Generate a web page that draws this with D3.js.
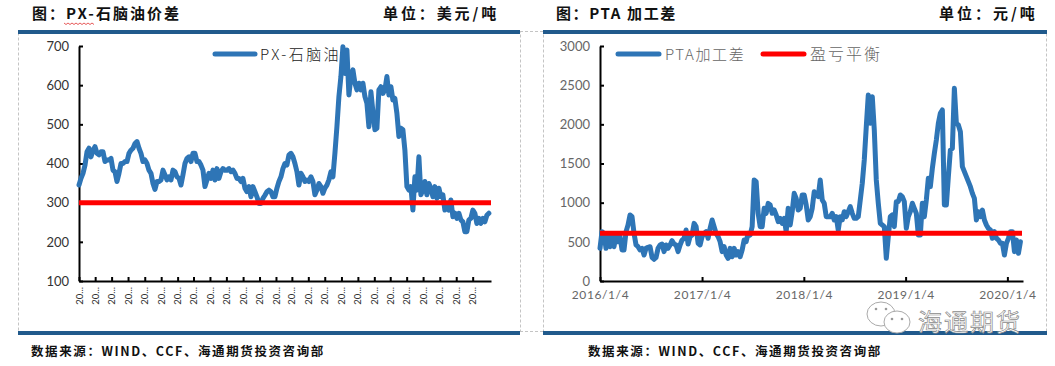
<!DOCTYPE html>
<html>
<head>
<meta charset="utf-8">
<script src="https://cdnjs.cloudflare.com/ajax/libs/d3/7.8.5/d3.min.js"></script>
<style>
  html, body { margin: 0; padding: 0; background: #fff; }
  svg { display: block; }
  .head { font-family: "Noto Sans CJK SC", sans-serif; font-weight: 700; font-size: 15px; fill: #111; }
  .src { font-family: "Noto Sans CJK SC", sans-serif; font-weight: 700; font-size: 12.5px; letter-spacing: 1.6px; fill: #111; }
  .tick text { font-family: Lato, sans-serif; }
  .leg { font-family: "Noto Sans CJK SC", sans-serif; font-weight: 300; }
</style>
</head>
<body>
<div id="chart"></div>
<script>
// values, one sample about every 2px
var pxValues = [345,362,375,396,430,439,417,434,443,426,422,430,430,405,409,409,413,383,379,354,375,400,400,405,405,426,434,439,451,456,439,426,405,409,400,383,375,349,334,354,354,358,383,371,358,366,358,383,379,366,362,345,371,400,413,417,405,426,426,405,405,396,383,341,358,375,362,383,358,387,362,379,387,383,383,387,379,383,375,362,362,354,362,337,328,341,315,341,328,315,298,298,311,319,328,332,328,315,315,337,354,366,387,400,396,422,
  426,417,400,379,345,375,366,354,358,354,366,354,320,332,349,341,324,337,345,358,379,366,426,494,571,622,698,630,690,575,622,639,605,588,605,588,605,571,554,494,583,532,486,490,588,596,579,588,622,575,596,562,566,528,469,490,486,434,341,332,341,281,366,332,417,320,332,354,320,349,337,315,341,311,337,315,320,281,298,281,307,264,273,260,273,256,251,226,226,256,260,281,273,247,260,247,260,251,268,273];
var ptaValues = [417,630,608,417,587,438,587,438,587,502,566,396,396,630,715,843,821,608,460,438,396,417,332,417,430,438,302,277,302,417,460,472,375,460,417,460,515,472,460,375,460,523,545,651,472,566,587,736,694,481,460,566,608,630,545,672,779,694,608,566,502,375,438,332,289,417,310,417,332,375,310,396,523,502,608,587,694,1289,1268,864,694,694,928,864,991,970,864,907,843,758,800,736,800,630,928,715,885,1119,1055,907,
  928,1098,1098,970,779,821,928,1140,1098,1077,1290,1034,992,821,821,821,864,779,821,651,821,779,885,821,885,949,864,800,800,821,1034,1247,1545,1970,2374,2013,2353,1928,1290,992,736,715,694,290,566,821,843,694,1013,1013,1098,1077,1013,672,821,885,992,928,864,587,587,992,821,1034,1311,1204,1438,1630,1800,2013,2140,2183,970,970,1332,1672,1694,2460,2013,1992,1906,1460,1396,1332,1268,1204,1119,1055,779,885,821,906,779,715,672,651,545,630,545,524,481,481,332,481,545,630,630,375,524,353,502];
var pxBreakEven = [300, 300];
var ptaBreakEven = [610, 610];
var pxTicks = [100, 200, 300, 400, 500, 600, 700];
var ptaTicks = [0, 500, 1000, 1500, 2000, 2500, 3000];
var ptaDateTicks = ["2016/1/4", "2017/1/4", "2018/1/4", "2019/1/4", "2020/1/4"];

var blue = "#2E75B6", red = "#FF0000", band = "#215A8C";
var parse = d3.timeParse("%Y/%-m/%-d");
var start = parse("2016/1/4");

var svg = d3.select("#chart").append("svg").attr("width", 1055).attr("height", 366);

// dashed chart frames
var frame = svg.append("g").attr("fill", "none").attr("stroke", "#c4c4c4").attr("stroke-dasharray", "3,2");
frame.append("rect").attr("x", 18.5).attr("y", 31.5).attr("width", 502).attr("height", 300);
frame.append("rect").attr("x", 543.5).attr("y", 31.5).attr("width", 503).attr("height", 300);
frame.append("path").attr("d", "M520,31.5H543M520,331.5H543");

// one panel: axes, series, break even line
function drawPanel(opt) {
    var x = d3.scaleTime().domain([start, opt.end]).range(opt.xRange);
    var y = d3.scaleLinear().domain(d3.extent(opt.yTicks)).range([281, 46]);
    var dates = opt.values.map((d, i) => new Date(+start + i * opt.stepDays * 864e5));

    var g = svg.append("g");

    var yAxis = d3.axisLeft(y).tickValues(opt.yTicks).tickSizeInner(-4).tickSizeOuter(0).tickPadding(10).tickFormat(d3.format("d"));
    var yg = g.append("g").attr("transform", "translate(" + opt.xRange[0] + ",0)").call(yAxis);
    yg.selectAll("text").attr("font-size", 13).attr("fill", opt.tickColor);

    var xAxis = d3.axisBottom(x).tickValues(opt.xTicks).tickSizeInner(-4).tickSizeOuter(0).tickFormat(opt.xFormat);
    var xg = g.append("g").attr("transform", "translate(0,281)").call(xAxis);
    g.selectAll(".domain").attr("stroke", "#000").attr("stroke-width", 2);
    g.selectAll(".tick line").attr("stroke", "#000").attr("stroke-width", 2);
    opt.styleX(xg);

    var line = d3.line().x((d, i) => x(dates[i])).y(d => y(d)).curve(d3.curveLinear);
    g.append("path").attr("d", line(opt.values)).attr("fill", "none")
        .attr("stroke", blue).attr("stroke-width", 5).attr("stroke-linejoin", "round").attr("stroke-linecap", "round");

    var flat = d3.line().x((d, i) => i ? opt.redEnd : opt.xRange[0]).y(d => y(d));
    g.append("path").attr("d", flat(opt.redLine)).attr("fill", "none").attr("stroke", red).attr("stroke-width", 5);
}

drawPanel({
    values: pxValues,
    stepDays: 7.42,
    end: d3.timeDay.offset(start, 1529),
    xRange: [79, 491],
    redEnd: 491,
    redLine: pxBreakEven,
    yTicks: pxTicks,
    xTicks: d3.range(25).map(i => d3.timeMonth.offset(start, i * 2)),
    xFormat: () => "20...",
    tickColor: "#333",
    styleX: function (xg) {
        xg.selectAll(".tick text")
            .attr("font-size", 9.5).attr("fill", "#333")
            .attr("text-anchor", "end").attr("dy", "0.32em")
            .attr("transform", "translate(0,6) rotate(-90)").attr("x", 0).attr("y", 0);
    }
});

drawPanel({
    values: ptaValues,
    stepDays: 7.18,
    end: d3.timeDay.offset(start, 1517),
    xRange: [600, 1023],
    redEnd: 1022,
    redLine: ptaBreakEven,
    yTicks: ptaTicks,
    xTicks: ptaDateTicks.map(parse),
    xFormat: d3.timeFormat("%Y/%-m/%-d"),
    tickColor: "#666",
    styleX: function (xg) {
        xg.selectAll(".tick text").attr("font-size", 12).attr("fill", "#666").attr("letter-spacing", 0.6).attr("y", 9.5);
    }
});

// blue bands above and below each panel
[[18, 502], [543, 504]].forEach(function (b) {
    svg.append("rect").attr("x", b[0]).attr("y", 30).attr("width", b[1]).attr("height", 4).attr("fill", band);
    svg.append("rect").attr("x", b[0]).attr("y", 331).attr("width", b[1]).attr("height", 4).attr("fill", band);
});

// headers
function header(x, spacing, label) {
    svg.append("text").attr("class", "head").attr("x", x).attr("y", 19).attr("letter-spacing", spacing).text(label);
}
header(32, 2, "图：PX-石脑油价差");
header(383, 2.9, "单位：美元/吨");
header(556, 1.6, "图：PTA 加工差");
header(939, 3, "单位：元/吨");

// spell check squiggle under PX
var squiggle = d3.range(0, 31, 2).map(i => [64 + i, 23 + (i % 4 ? 1.5 : 0)]);
svg.append("path").attr("d", d3.line()(squiggle)).attr("fill", "none").attr("stroke", "#e03030").attr("stroke-width", 0.8);

// source notes
svg.append("text").attr("class", "src").attr("x", 31).attr("y", 356).text("数据来源：WIND、CCF、海通期货投资咨询部");
svg.append("text").attr("class", "src").attr("x", 588).attr("y", 356).text("数据来源：WIND、CCF、海通期货投资咨询部");

// legends
function legendKey(x1, x2, color, label, textX, textColor, size, spacing) {
    svg.append("line").attr("x1", x1).attr("x2", x2).attr("y1", 54).attr("y2", 54)
        .attr("stroke", color).attr("stroke-width", 5).attr("stroke-linecap", "round");
    svg.append("text").attr("class", "leg").attr("x", textX).attr("y", 60).attr("fill", textColor)
        .attr("font-size", size).attr("letter-spacing", spacing).text(label);
}
legendKey(215, 255, blue, "PX-石脑油", 260, "#222", 15, 2.4);
legendKey(618, 659, blue, "PTA加工差", 665, "#666", 15, 1.6);
legendKey(763, 804, red, "盈亏平衡", 810, "#666", 16, 2);

// wechat watermark
var wm = svg.append("g");
wm.append("ellipse").attr("cx", 881).attr("cy", 314).attr("rx", 14).attr("ry", 12).attr("fill", "#fff").attr("stroke", "#aaa");
wm.append("ellipse").attr("cx", 897).attr("cy", 322).attr("rx", 13).attr("ry", 11).attr("fill", "#fff").attr("stroke", "#aaa");
[[876, 309], [886, 309], [892, 319], [902, 319]].forEach(function (p) {
    wm.append("circle").attr("cx", p[0]).attr("cy", p[1]).attr("r", 1.3).attr("fill", "#999");
});
wm.append("text").attr("x", 918).attr("y", 331).attr("font-family", "'Noto Sans CJK SC', sans-serif")
    .attr("font-size", 24).attr("letter-spacing", 2).attr("fill", "#fff").attr("stroke", "#8a8a8a").attr("stroke-width", 0.7)
    .text("海通期货");
</script>
</body>
</html>
